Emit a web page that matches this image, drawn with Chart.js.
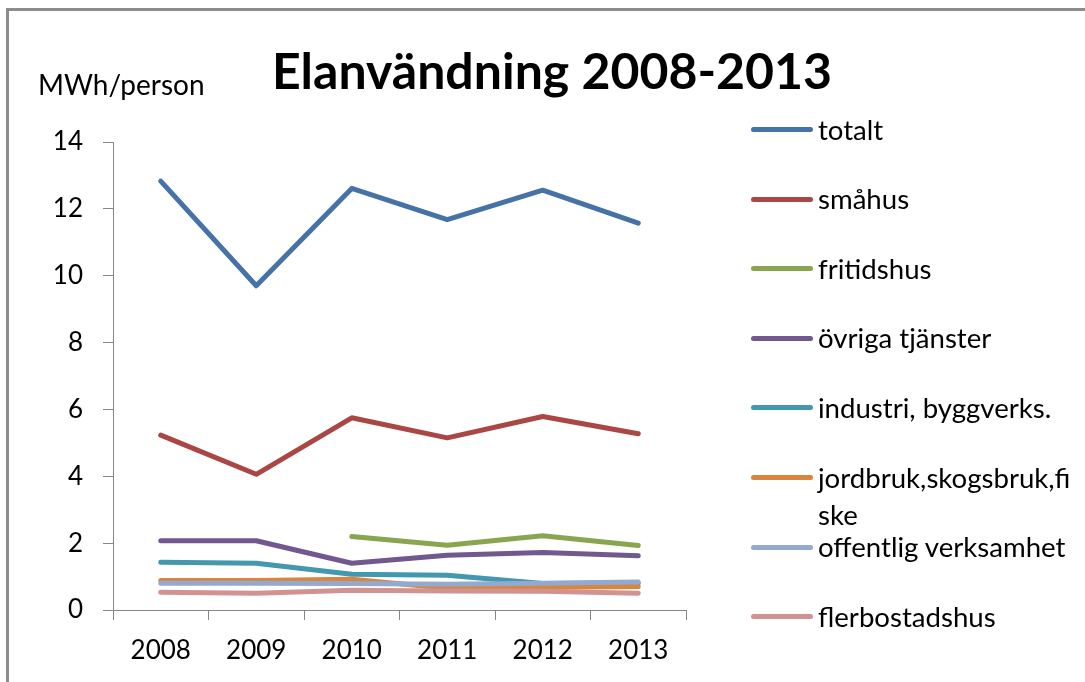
<!DOCTYPE html>
<html>
<head>
<meta charset="utf-8">
<script src="https://cdn.jsdelivr.net/npm/chart.js@4"></script>
<style>
    html, body { margin: 0; padding: 0; background: #fff; }
    #wrap { position: relative; width: 1085px; height: 682px; overflow: hidden; font-family: Lato, sans-serif; }
    #frame { position: absolute; left: 6px; top: 8px; width: 1200px; height: 800px; border-top: 3px solid #8c8c8c; border-left: 3px solid #8c8c8c; }
    #chart { position: absolute; left: 0; top: 0; }
    #title { position: absolute; left: 0; width: 1104px; top: 40px; text-align: center; font-weight: bold; font-size: 50px; color: #000; }
    #unit { position: absolute; left: 38px; top: 67px; font-size: 28px; color: #000; }
    .leg { position: absolute; left: 751px; height: 0; }
    .leg .swatch { position: absolute; left: 0; top: -2.5px; width: 62px; height: 5px; border-radius: 3px; }
    .leg .txt { position: absolute; left: 67px; top: -19px; font-size: 27.6px; line-height: 37px; white-space: pre; color: #000; }
</style>
</head>
<body>
<div id="wrap">
    <div id="frame"></div>
    <canvas id="chart" width="1085" height="682"></canvas>
    <div id="title">Elanvändning 2008-2013</div>
    <div id="unit">MWh/person</div>
    <div id="legend"></div>
</div>
<script>
// år (x-axel)
const years = ['2008', '2009', '2010', '2011', '2012', '2013'];

// serier, MWh/person
const totalt         = [12.83, 9.70, 12.61, 11.68, 12.56, 11.57];
const smahus         = [5.23, 4.06, 5.75, 5.15, 5.79, 5.27];
const fritidshus     = [null, null, 2.20, 1.94, 2.22, 1.93];
const ovrigaTjanster = [2.07, 2.07, 1.40, 1.64, 1.72, 1.62];
const industri       = [1.43, 1.40, 1.07, 1.04, 0.79, 0.80];
const jordbruk       = [0.88, 0.88, 0.92, 0.65, 0.68, 0.70];
const offentlig      = [0.80, 0.80, 0.79, 0.77, 0.80, 0.84];
const flerbostadshus = [0.53, 0.50, 0.59, 0.57, 0.56, 0.50];

const seriesNames = ['totalt', 'småhus', 'fritidshus', 'övriga tjänster', 'industri, byggverks.',
    'jordbruk,skogsbruk,fi\nske', 'offentlig verksamhet', 'flerbostadshus'];
const seriesData = [totalt, smahus, fritidshus, ovrigaTjanster, industri, jordbruk, offentlig, flerbostadshus];
const seriesColors = ['#4572A7', '#AA4643', '#89A54E', '#71588F', '#4198AF', '#DB843D', '#93A9CF', '#D19392'];

// y-axel
const yMin = 0, yMax = 14, yStep = 2;

const axisGray = '#878787';
const tickFont = { family: 'Lato', size: 26 };

const datasets = seriesData.map((d, i) => ({
    label: seriesNames[i].replace('\n', ''),
    data: d,
    borderColor: seriesColors[i],
    backgroundColor: seriesColors[i],
    borderWidth: 5,
    borderCapStyle: 'round',
    borderJoinStyle: 'round',
    pointRadius: 0,
    tension: 0,
    spanGaps: false,
    order: seriesData.length - i // senare serie ritas överst, som i Excel
}));

new Chart(document.getElementById('chart'), {
    type: 'line',
    data: { labels: years, datasets: datasets },
    options: {
        responsive: false,
        animation: false,
        layout: { padding: { top: 142, right: 399, left: 0, bottom: 0 } },
        plugins: { legend: { display: false }, tooltip: { enabled: false } },
        scales: {
            x: {
                offset: true,
                grid: { offset: true, drawOnChartArea: false, drawTicks: true, tickLength: 10, color: axisGray },
                border: { display: true, color: axisGray, width: 1 },
                ticks: { color: '#000', font: tickFont, padding: 15, maxRotation: 0 },
                afterFit: s => { s.height = 72; }
            },
            y: {
                min: yMin, max: yMax,
                grid: { drawOnChartArea: false, drawTicks: true, tickLength: 10, color: axisGray },
                border: { display: true, color: axisGray, width: 1 },
                ticks: { stepSize: yStep, color: '#000', font: tickFont, padding: 20 },
                afterFit: s => { s.width = 113; }
            }
        }
    }
});

// förklaring till höger
const legendBox = document.getElementById('legend');
seriesNames.forEach((name, i) => {
    const item = document.createElement('div');
    item.className = 'leg';
    item.style.top = (129.5 + i * 69.6) + 'px';
    item.innerHTML = '<div class="swatch" style="background:' + seriesColors[i] + '"></div><div class="txt"></div>';
    item.querySelector('.txt').textContent = name;
    legendBox.appendChild(item);
});
</script>
</body>
</html>
